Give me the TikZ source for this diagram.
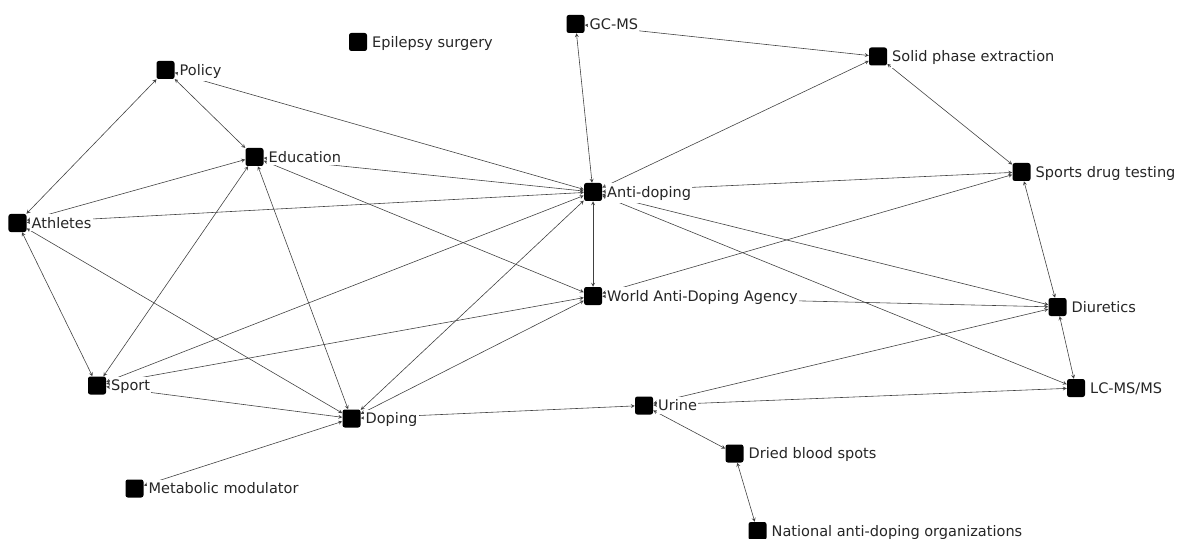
\documentclass[tikz,border=0pt]{standalone}
\usepackage{fontspec}
\setmainfont{DejaVu Sans}

\tikzset{
    sq/.style={fill=black, rounded corners=2pt, minimum size=0.54cm, inner sep=0pt},
    lbl/.style={anchor=base west, xshift=3pt, yshift=-4.5pt, fill=white, inner xsep=1pt,
        inner ysep=2.5pt, text=black!85, font=\fontsize{12.4}{14}\selectfont},
    link/.style={<->, >=stealth, line width=0.5pt, color=black!75}
}

\begin{document}
\begin{tikzpicture}[x=0.03cm, y=-0.03cm]
    \useasboundingbox (0,0) rectangle (1180,539);
    % squares
    \node [sq] (epilepsy) at (358,42) {};
    \node [sq] (gcms) at (575.5,24) {};
    \node [sq] (spe) at (878,56.5) {};
    \node [sq] (policy) at (165.5,70) {};
    \node [sq] (education) at (254.5,157) {};
    \node [sq] (antidoping) at (593,192) {};
    \node [sq] (sdt) at (1021.5,172) {};
    \node [sq] (athletes) at (17.5,223) {};
    \node [sq] (wada) at (593,296) {};
    \node [sq] (diuretics) at (1057.5,307) {};
    \node [sq] (sport) at (97,385.5) {};
    \node [sq] (lcms) at (1076,388) {};
    \node [sq] (doping) at (351.5,418.5) {};
    \node [sq] (urine) at (644,405.5) {};
    \node [sq] (dbs) at (734.5,453.5) {};
    \node [sq] (metabolic) at (134.5,488.5) {};
    \node [sq] (nado) at (757.5,531) {};
    % ties
    \draw [link] (policy) -- (athletes);
    \draw [link] (policy) -- (education);
    \draw [link] (policy) -- (antidoping);
    \draw [link] (athletes) -- (education);
    \draw [link] (athletes) -- (antidoping);
    \draw [link] (athletes) -- (sport);
    \draw [link] (athletes) -- (doping);
    \draw [link] (education) -- (antidoping);
    \draw [link] (education) -- (wada);
    \draw [link] (education) -- (sport);
    \draw [link] (education) -- (doping);
    \draw [link] (gcms) -- (antidoping);
    \draw [link] (gcms) -- (spe);
    \draw [link] (antidoping) -- (spe);
    \draw [link] (antidoping) -- (sdt);
    \draw [link] (antidoping) -- (wada);
    \draw [link] (antidoping) -- (diuretics);
    \draw [link] (antidoping) -- (lcms);
    \draw [link] (antidoping) -- (sport);
    \draw [link] (antidoping) -- (doping);
    \draw [link] (spe) -- (sdt);
    \draw [link] (sdt) -- (diuretics);
    \draw [link] (sdt) -- (wada);
    \draw [link] (diuretics) -- (lcms);
    \draw [link] (diuretics) -- (wada);
    \draw [link] (diuretics) -- (urine);
    \draw [link] (lcms) -- (urine);
    \draw [link] (wada) -- (sport);
    \draw [link] (wada) -- (doping);
    \draw [link] (sport) -- (doping);
    \draw [link] (doping) -- (metabolic);
    \draw [link] (doping) -- (urine);
    \draw [link] (urine) -- (dbs);
    \draw [link] (dbs) -- (nado);
    % labels
    \node [lbl] (epilepsy-t) at (epilepsy.east) {Epilepsy surgery};
    \node [lbl] (gcms-t) at (gcms.east) {GC-MS};
    \node [lbl] (spe-t) at (spe.east) {Solid phase extraction};
    \node [lbl] (policy-t) at (policy.east) {Policy};
    \node [lbl] (education-t) at (education.east) {Education};
    \node [lbl] (antidoping-t) at (antidoping.east) {Anti-doping};
    \node [lbl] (sdt-t) at (sdt.east) {Sports drug testing};
    \node [lbl] (athletes-t) at (athletes.east) {Athletes};
    \node [lbl] (wada-t) at (wada.east) {World Anti-Doping Agency};
    \node [lbl] (diuretics-t) at (diuretics.east) {Diuretics};
    \node [lbl] (sport-t) at (sport.east) {Sport};
    \node [lbl] (lcms-t) at (lcms.east) {LC-MS/MS};
    \node [lbl] (doping-t) at (doping.east) {Doping};
    \node [lbl] (urine-t) at (urine.east) {Urine};
    \node [lbl] (dbs-t) at (dbs.east) {Dried blood spots};
    \node [lbl] (metabolic-t) at (metabolic.east) {Metabolic modulator};
    \node [lbl] (nado-t) at (nado.east) {National anti-doping organizations};
\end{tikzpicture}
\end{document}
